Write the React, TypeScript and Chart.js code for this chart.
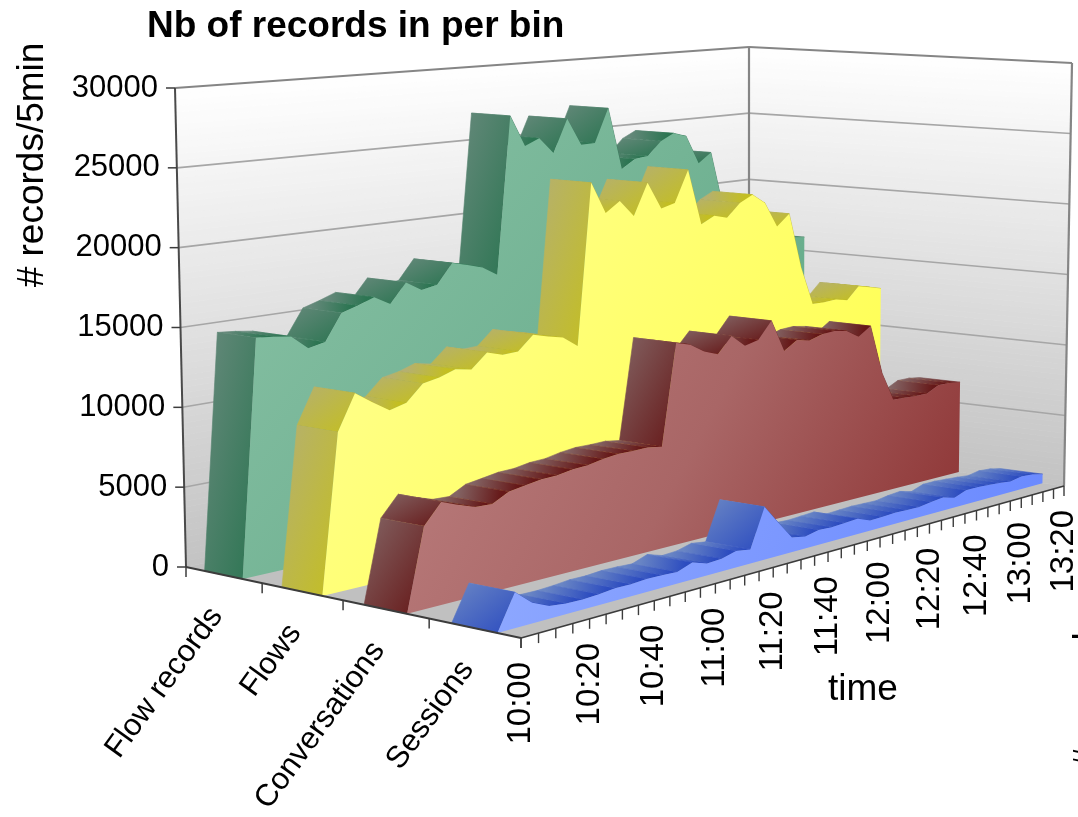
import { useEffect, useRef } from "react";
import { Chart, registerables, LineController } from "chart.js";

Chart.register(...registerables);

// Five-minute bins, 10:00 to 13:20
const times = [
  "10:00", "10:05", "10:10", "10:15", "10:20", "10:25", "10:30", "10:35", "10:40", "10:45", "10:50",
  "10:55", "11:00", "11:05", "11:10", "11:15", "11:20", "11:25", "11:30", "11:35", "11:40", "11:45",
  "11:50", "11:55", "12:00", "12:05", "12:10", "12:15", "12:20", "12:25", "12:30", "12:35", "12:40",
  "12:45", "12:50", "12:55", "13:00", "13:05", "13:10", "13:15", "13:20",
];

const flowRecords = [
  0, 14700, 14600, 14450, 13550, 13780, 15450, 15780, 16160, 15560, 16810, 16170, 16370, 17660, 17400, 17100,
  16470, 27030, 24900, 25340, 24230, 26480, 24600, 24620, 26950, 22620, 23220, 23320, 24280, 24750, 24440, 22410,
  23090, 19000, 15500, 15500, 15600, 15400, 16200, 16100, 16000,
];
const flows = [
  0, 9680, 11850, 11110, 10430, 10700, 11700, 11900, 12240, 12040, 12960, 12640, 12680, 13600, 13320, 13080,
  12360, 22990, 20880, 21550, 20430, 22550, 20700, 20950, 23100, 19250, 19720, 19460, 20370, 20840, 20140, 18370,
  19150, 15210, 12440, 12430, 12490, 12290, 13160, 12950, 12720,
];
const conversations = [
  0, 4930, 6140, 5730, 5380, 5330, 5860, 6010, 6170, 6200, 6360, 6400, 6590, 6700, 6680, 6700,
  6550, 13080, 12800, 12180, 11830, 12870, 12070, 12280, 13410, 11210, 11800, 11590, 11860, 11920, 11770, 11210,
  11800, 8360, 6300, 6250, 6200, 6200, 6620, 6620, 6500,
];
const sessions = [
  0, 2080, 1200, 750, 620, 600, 650, 740, 720, 790, 770, 710, 1050, 740, 790, 1030,
  890, 3350, 2110, 930, 770, 960, 900, 950, 1000, 655, 690, 730, 700, 670, 805, 880,
  660, 955, 960, 895, 830, 740, 880, 810, 640,
];

const seriesNames = ["Flow records", "Flows", "Conversations", "Sessions"];
const valueTicks = { min: 0, max: 30000, step: 5000 };

type Pt = [number, number];
type Shade = { ribbon: [string, string]; face: [string, string, string]; seam: string };

const shades: Shade[] = [
  { ribbon: ["#66897b", "#2c7552"], face: ["#8ac2a6", "#74b495", "#5aa682"], seam: "rgba(205,230,218,0.3)" },
  { ribbon: ["#b5b070", "#c4bf20"], face: ["#ffff96", "#ffff6e", "#ffff48"], seam: "rgba(140,140,50,0.3)" },
  { ribbon: ["#836464", "#661818"], face: ["#bb7e7e", "#a96666", "#8a2e2e"], seam: "rgba(235,175,95,0.5)" },
  { ribbon: ["#6a86c4", "#2c4cc0"], face: ["#8fa9ff", "#7c98ff", "#6888ff"], seam: "rgba(175,195,255,0.28)" },
];

// Frame of the box: floor corners and the same corners at the top of the value axis
const floorCorners: Pt[] = [[186, 567], [749, 444], [1064, 486], [521, 638]];
const topCorners: Pt[] = [[175, 88], [749, 47], [1072, 63], [519, 114]];

// Maps the unit square (u along time, d along depth) onto a quadrilateral
function unitSquareTo(q: Pt[]) {
  const [[x0, y0], [x1, y1], [x2, y2], [x3, y3]] = q;
  const dx1 = x1 - x2, dx2 = x3 - x2, sx = x0 - x1 + x2 - x3;
  const dy1 = y1 - y2, dy2 = y3 - y2, sy = y0 - y1 + y2 - y3;
  const det = dx1 * dy2 - dx2 * dy1;
  const g = (sx * dy2 - dx2 * sy) / det;
  const h = (dx1 * sy - sx * dy1) / det;
  const a = x1 - x0 + g * x1, b = x3 - x0 + h * x3;
  const d = y1 - y0 + g * y1, e = y3 - y0 + h * y3;
  return (u: number, v: number): Pt => {
    const w = g * u + h * v + 1;
    return [(a * u + b * v + x0) / w, (d * u + e * v + y0) / w];
  };
}
const onFloor = unitSquareTo(floorCorners);
const onTop = unitSquareTo(topCorners);

// u: time fraction, d: depth fraction, h: value fraction
function project(u: number, d: number, h: number): Pt {
  const a = onFloor(u, d);
  const b = onTop(u, d);
  return [a[0] + (b[0] - a[0]) * h, a[1] + (b[1] - a[1]) * h];
}

function poly(ctx: CanvasRenderingContext2D, pts: Pt[]) {
  ctx.beginPath();
  pts.forEach((p, i) => (i ? ctx.lineTo(p[0], p[1]) : ctx.moveTo(p[0], p[1])));
  ctx.closePath();
}

function segment(ctx: CanvasRenderingContext2D, a: Pt, b: Pt, color: string, width: number) {
  ctx.strokeStyle = color;
  ctx.lineWidth = width;
  ctx.beginPath();
  ctx.moveTo(a[0], a[1]);
  ctx.lineTo(b[0], b[1]);
  ctx.stroke();
}

// Gradient running between opposite corners of the bounding box of a quad
function diagonalGradient(ctx: CanvasRenderingContext2D, quad: Pt[]) {
  const xs = quad.map((p) => p[0]);
  const ys = quad.map((p) => p[1]);
  const x0 = Math.min(...xs), y0 = Math.min(...ys);
  const w = Math.max(...xs) - x0 || 1, h = Math.max(...ys) - y0 || 1;
  const k = (2 * w * h) / (w * w + h * h);
  return ctx.createLinearGradient(x0, y0, x0 + h * k, y0 + w * k);
}

// Area series drawn as a ribbon in the box: its top surface, then its front face
class RibbonController extends LineController {
  static id = "ribbon";
  static defaults = { ...LineController.defaults };

  draw() {
    const chart = this.chart;
    const ctx = chart.ctx;
    const { left, width, top, height } = chart.chartArea;
    const index = this.index;
    const shade = shades[index];
    const back = (index + 0.25) / seriesNames.length;
    const front = (index + 0.75) / seriesNames.length;
    const pts = this.getMeta().data.map((el: any) => ({
      u: (el.x - left) / width,
      h: (top + height - el.y) / height,
    }));

    ctx.save();
    for (let i = pts.length - 2; i >= 0; i--) {
      const p = pts[i], q = pts[i + 1];
      const quad: Pt[] = [
        project(p.u, front, p.h),
        project(q.u, front, q.h),
        project(q.u, back, q.h),
        project(p.u, back, p.h),
      ];
      let grad: CanvasGradient;
      if (Math.abs(p.h - q.h) < 0.02) {
        // nearly level stretch: shaded across the ribbon only
        const um = (p.u + q.u) / 2, hm = (p.h + q.h) / 2;
        const from = project(um, back, hm);
        const to = project(um, front, hm);
        grad = ctx.createLinearGradient(from[0], from[1], to[0], to[1]);
      } else {
        grad = diagonalGradient(ctx, quad);
      }
      grad.addColorStop(0, shade.ribbon[0]);
      grad.addColorStop(1, shade.ribbon[1]);
      poly(ctx, quad);
      ctx.fillStyle = grad;
      ctx.fill();
      ctx.strokeStyle = grad;
      ctx.lineWidth = 0.6;
      ctx.stroke();
      if (i > 0) {
        ctx.setLineDash([3, 3]);
        segment(ctx, quad[0], quad[3], shade.seam, 0.8);
        ctx.setLineDash([]);
      }
    }

    const outline: Pt[] = pts.map((p) => project(p.u, front, p.h));
    const base0 = project(pts[0].u, front, 0);
    const base1 = project(pts[pts.length - 1].u, front, 0);
    const face: Pt[] = [base0, ...outline, base1];
    const xs = face.map((p) => p[0]);
    const ys = face.map((p) => p[1]);
    const grad = ctx.createLinearGradient(Math.min(...xs), Math.min(...ys), Math.max(...xs), Math.max(...ys));
    grad.addColorStop(0, shade.face[0]);
    grad.addColorStop(0.5, shade.face[1]);
    grad.addColorStop(1, shade.face[2]);
    poly(ctx, face);
    ctx.fillStyle = grad;
    ctx.fill();
    ctx.restore();
  }
}
Chart.register(RibbonController);

const FONT = "'Liberation Sans', Arial, sans-serif";
const VALUE_TITLE = "# records/5min";

// Walls, floor and grid of the box, behind the series
const boxBackground = {
  id: "boxBackground",
  beforeDatasetsDraw(chart: any) {
    const { ctx } = chart;
    const y = chart.scales.y;
    const hOf = (v: number) => (y.bottom - y.getPixelForValue(v)) / y.height;
    ctx.save();

    const bands = 80;
    for (let k = 0; k < bands; k++) {
      const h0 = k / bands, h1 = (k + 1) / bands;
      const g = Math.round(195 + 60 * h0);
      const c = `rgb(${g},${g},${g})`;
      const left: Pt[] = [project(0, 0, h0), project(1, 0, h0), project(1, 0, h1), project(0, 0, h1)];
      const right: Pt[] = [project(1, 0, h0), project(1, 1, h0), project(1, 1, h1), project(1, 0, h1)];
      for (const q of [left, right]) {
        poly(ctx, q);
        ctx.fillStyle = c;
        ctx.fill();
        ctx.strokeStyle = c;
        ctx.lineWidth = 0.8;
        ctx.stroke();
      }
    }

    poly(ctx, [project(0, 0, 0), project(1, 0, 0), project(1, 1, 0), project(0, 1, 0)]);
    ctx.fillStyle = "#c0c0c0";
    ctx.fill();

    for (const t of y.ticks) {
      const h = hOf(t.value);
      if (h <= 0 || h >= 1) continue;
      segment(ctx, project(0, 0, h), project(1, 0, h), "#a6a6a6", 1.6);
      segment(ctx, project(1, 0, h), project(1, 1, h), "#a6a6a6", 1.6);
    }

    segment(ctx, project(0, 0, 1), project(1, 0, 1), "#858585", 2.2);
    segment(ctx, project(1, 0, 1), project(1, 1, 1), "#858585", 2.2);
    segment(ctx, project(1, 0, 0), project(1, 0, 1), "#858585", 2.2);
    segment(ctx, project(1, 1, 0), project(1, 1, 1), "#858585", 2.2);
    ctx.restore();
  },
};

// Axis lines, tick marks and the labels placed along the projected edges
const boxAxes = {
  id: "boxAxes",
  afterDatasetsDraw(chart: any) {
    const { ctx } = chart;
    const x = chart.scales.x;
    const y = chart.scales.y;
    const dark = "#3c3c3c";
    ctx.save();

    segment(ctx, project(0, 0, 0), project(0, 0, 1), "#4a4a4a", 2);
    segment(ctx, project(0, 0, 0), project(0, 1, 0), dark, 1.8);
    segment(ctx, project(0, 1, 0), project(1, 1, 0), dark, 1.8);

    for (const t of y.ticks) {
      const h = (y.bottom - y.getPixelForValue(t.value)) / y.height;
      const p = project(0, 0, h);
      segment(ctx, [p[0] - 9, p[1]], p, dark, 1.5);
    }

    const n = seriesNames.length;
    for (let i = 0; i <= n; i++) {
      const p = project(0, i / n, 0);
      segment(ctx, p, [p[0], p[1] + 10], dark, 1.5);
    }

    ctx.fillStyle = "#000";
    ctx.font = `31px ${FONT}`;
    ctx.textAlign = "right";
    ctx.textBaseline = "middle";
    seriesNames.forEach((name, i) => {
      const p = project(0, (i + 0.5) / n, 0);
      ctx.save();
      ctx.translate(p[0] - 7, p[1] + 36);
      ctx.rotate((-54 * Math.PI) / 180);
      ctx.fillText(name, 0, 0);
      ctx.restore();
    });

    ctx.font = `33px ${FONT}`;
    times.forEach((label, i) => {
      const u = (x.getPixelForValue(i) - x.left) / x.width;
      const p = project(u, 1, 0);
      segment(ctx, p, [p[0], p[1] + 10], dark, 1.4);
      if (i % 4 === 0) {
        ctx.save();
        ctx.translate(p[0], p[1] + 24);
        ctx.rotate(-Math.PI / 2);
        ctx.fillText(label, 0, 0);
        ctx.restore();
      }
    });

    ctx.font = `37px ${FONT}`;
    ctx.textAlign = "center";
    ctx.fillText("time", 863, 690);

    ctx.save();
    ctx.translate(33, 165);
    ctx.rotate(-Math.PI / 2);
    ctx.fillText(VALUE_TITLE, 0, 0);
    ctx.restore();

    // a neighbouring axis title, cut off by the right edge
    ctx.save();
    ctx.beginPath();
    ctx.rect(0, 630, chart.width, 140);
    ctx.clip();
    ctx.translate(1099, 768);
    ctx.rotate(-Math.PI / 2);
    ctx.textAlign = "left";
    ctx.textBaseline = "alphabetic";
    ctx.fillText(VALUE_TITLE, 0, 0);
    ctx.restore();

    ctx.font = `bold 37px ${FONT}`;
    ctx.textAlign = "left";
    ctx.fillText("Nb of records in per bin", 147, 27);
    ctx.restore();
  },
};

export default function App() {
  const ref = useRef<HTMLCanvasElement>(null);

  useEffect(() => {
    document.body.style.margin = "0";
    document.body.style.background = "#fff";
    const values = [flowRecords, flows, conversations, sessions];
    const chart = new Chart(ref.current!, {
      type: "ribbon" as any,
      data: {
        labels: times,
        datasets: seriesNames.map((label, i) => ({
          label,
          data: values[i],
          // nearest series last
          order: seriesNames.length - i,
          clip: false as any,
          pointRadius: 0,
        })),
      },
      plugins: [boxBackground, boxAxes],
      options: {
        responsive: false,
        animation: false,
        events: [],
        layout: { padding: { left: 0, right: 14, top: 88, bottom: 250 } },
        plugins: { legend: { display: false }, title: { display: false }, tooltip: { enabled: false } },
        scales: {
          x: { type: "category", display: false, offset: false },
          y: {
            type: "linear",
            min: valueTicks.min,
            max: valueTicks.max,
            grid: { display: false },
            border: { display: false },
            ticks: {
              stepSize: valueTicks.step,
              color: "#000",
              font: { family: FONT, size: 31 },
              callback: (v: number) => String(v),
            },
            afterFit(scale: any) {
              scale.width = 175;
            },
            afterUpdate(scale: any) {
              // tick labels follow the slightly tilted wall edge
              const base = Object.getPrototypeOf(scale).getLabelItems;
              scale.getLabelItems = (area: any) =>
                base.call(scale, area).map((item: any, i: number) => {
                  const h = (scale.bottom - scale.getPixelForTick(i)) / scale.height;
                  const p = project(0, 0, h);
                  return {
                    ...item,
                    options: {
                      ...item.options,
                      textAlign: "right",
                      translation: [p[0] - 17, item.options.translation[1]],
                    },
                  };
                });
            },
          },
        },
      } as any,
    });
    return () => chart.destroy();
  }, []);

  return (
    <canvas
      ref={ref}
      width={1078}
      height={817}
      style={{ position: "fixed", left: 0, top: 0, width: 1078, height: 817 }}
    />
  );
}
